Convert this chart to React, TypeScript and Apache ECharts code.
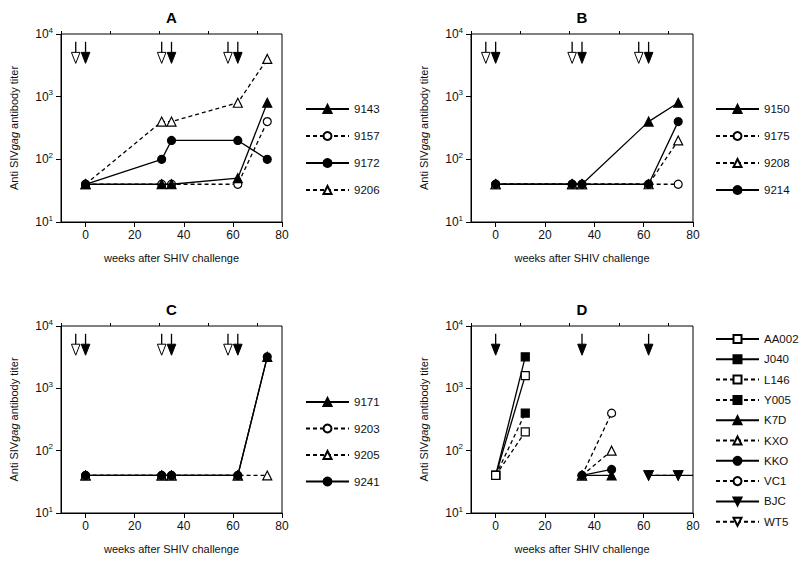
import React, { useEffect, useRef } from "react";
import * as echarts from "echarts";

// ---------- data ----------
const WEEKS_ABC = [0, 31, 35, 62, 74];

const A_NAMES = ["9143", "9157", "9172", "9206"];
const A_9143 = [40, 40, 40, 50, 800];
const A_9157 = [40, 40, 40, 40, 400];
const A_9172 = [40, 100, 200, 200, 100];
const A_9206 = [40, 400, 400, 800, 4000];

const B_NAMES = ["9150", "9175", "9208", "9214"];
const B_9150 = [40, 40, 40, 400, 800];
const B_9175 = [40, 40, 40, 40, 40];
const B_9208 = [40, 40, 40, 40, 200];
const B_9214 = [40, 40, 40, 40, 400];

const C_NAMES = ["9171", "9203", "9205", "9241"];
const C_9171 = [40, 40, 40, 40, 3200];
const C_9203 = [40, 40, 40, 40, null];
const C_9205 = [40, 40, 40, 40, 40];
const C_9241 = [40, 40, 40, 40, 3200];

const D_NAMES = ["AA002", "J040", "L146", "Y005", "K7D", "KXO", "KKO", "VC1", "BJC", "WT5"];
const D_WEEKS_1 = [0, 12];
const D_WEEKS_2 = [35, 47];
const D_WEEKS_3 = [62, 74, 80];
const D_AA002 = [40, 1600];
const D_J040 = [40, 3200];
const D_L146 = [40, 200];
const D_Y005 = [40, 400];
const D_K7D = [40, 40];
const D_KXO = [40, 100];
const D_KKO = [40, 50];
const D_VC1 = [40, 400];
const D_BJC = [40, 40, 40];
const D_BJC_MARKED = [true, true, false];
const D_WT5 = [40, 40];

const ARROWS_ABC_OPEN = [-4, 31, 58];
const ARROWS_ABC_FILLED = [0, 35, 62];
const ARROWS_D_FILLED = [0, 35, 62];
const ARROW_TOP = 7500;
const ARROW_TIP = 3400;

const X_MAJOR_TICKS = [0, 20, 40, 60, 80];
const X_MINOR_TICKS = [-10, 10, 30, 50, 70];
const X_MIN = -10;
const X_MAX = 80;
const Y_MIN = 10;
const Y_MAX = 10000;

const PANEL_TITLES = ["A", "B", "C", "D"];
const X_TITLE = "weeks after SHIV challenge";
const Y_TITLE = "Anti SIV{i|gag} antibody titer";

// ---------- styles ----------
const FONT = "'Liberation Sans', Arial, Helvetica, sans-serif";
const INK = "#111";

const GRIDS = [
  { left: 61, top: 34, width: 221, height: 188 },
  { left: 471, top: 34, width: 222, height: 188 },
  { left: 61, top: 326, width: 221, height: 187 },
  { left: 471, top: 326, width: 222, height: 187 },
];

const LEGENDS = [
  { left: 300, top: 98, itemGap: 15 },
  { left: 710, top: 98, itemGap: 15 },
  { left: 300, top: 391, itemGap: 14.5 },
  { left: 710, top: 328, itemGap: 8.3 },
];

type Sty = { dashed: boolean; symbol: string; filled: boolean; rotate?: number; z?: number; marked?: boolean[] };

function lineSeries(name: string, grid: number, xs: number[], ys: (number | null)[], s: Sty) {
  const data: any[] = [];
  xs.forEach((x, i) => {
    const y = ys[i];
    if (y !== null && y !== undefined) {
      if (s.marked && s.marked[i] === false) data.push({ value: [x, y], symbol: "none" });
      else data.push([x, y]);
    }
  });
  const size = s.symbol === "triangle" ? 9 : 8;
  return {
    type: "line",
    name,
    xAxisIndex: grid * 2,
    yAxisIndex: grid,
    data,
    symbol: s.symbol,
    symbolSize: size,
    symbolRotate: s.rotate || 0,
    showSymbol: true,
    clip: true,
    z: s.z ?? 2,
    lineStyle: { color: "#000", width: 1.3, type: s.dashed ? [4, 3] : "solid" },
    itemStyle: { color: s.filled ? "#000" : "#fff", borderColor: "#000", borderWidth: 1.2, opacity: 1 },
    emphasis: { disabled: true },
  };
}

function arrowSeries(grid: number, open: number[], filled: number[]) {
  const data: number[][] = [];
  open.forEach((x) => data.push([x, ARROW_TIP, 0]));
  filled.forEach((x) => data.push([x, ARROW_TIP, 1]));
  return {
    type: "custom",
    xAxisIndex: grid * 2,
    yAxisIndex: grid,
    encode: { x: 0, y: 1 },
    data,
    z: 5,
    silent: true,
    renderItem: (_p: any, api: any) => {
      const x = api.value(0);
      const isFilled = api.value(2) === 1;
      const top = api.coord([x, ARROW_TOP]);
      const tip = api.coord([x, ARROW_TIP]);
      const h = 11;
      const w = 4.3;
      return {
        type: "group",
        children: [
          {
            type: "line",
            shape: { x1: tip[0], y1: top[1], x2: tip[0], y2: tip[1] - h },
            style: { stroke: "#000", lineWidth: 1.3 },
          },
          {
            type: "polygon",
            shape: {
              points: [
                [tip[0] - w, tip[1] - h],
                [tip[0] + w, tip[1] - h],
                [tip[0], tip[1]],
              ],
            },
            style: { fill: isFilled ? "#000" : "#fff", stroke: "#000", lineWidth: 1 },
          },
        ],
      };
    },
  };
}

function buildOption() {
  const xAxis: any[] = [];
  const yAxis: any[] = [];
  GRIDS.forEach((_g, i) => {
    xAxis.push({
      type: "value",
      gridIndex: i,
      min: X_MIN,
      max: X_MAX,
      name: X_TITLE,
      nameLocation: "middle",
      nameGap: 30,
      nameTextStyle: { fontFamily: FONT, fontSize: 11, color: INK },
      axisLine: { show: true, onZero: false, lineStyle: { color: "#000", width: 1 } },
      axisTick: { show: true, length: 5, customValues: X_MAJOR_TICKS, lineStyle: { color: "#000" } },
      axisLabel: {
        show: true,
        customValues: X_MAJOR_TICKS,
        fontFamily: FONT,
        fontSize: 12,
        color: INK,
        margin: 7,
      },
      splitLine: { show: false },
    });
    xAxis.push({
      type: "value",
      gridIndex: i,
      min: X_MIN,
      max: X_MAX,
      axisLine: { show: false, onZero: false },
      axisTick: { show: true, length: 3, customValues: X_MINOR_TICKS, lineStyle: { color: "#000" } },
      axisLabel: { show: false },
      splitLine: { show: false },
    });
    yAxis.push({
      type: "log",
      logBase: 10,
      gridIndex: i,
      min: Y_MIN,
      max: Y_MAX,
      name: Y_TITLE,
      nameLocation: "middle",
      nameRotate: 90,
      nameGap: 42,
      nameTextStyle: {
        fontFamily: FONT,
        fontSize: 11,
        color: INK,
        rich: { i: { fontFamily: FONT, fontSize: 11, fontStyle: "italic", color: INK } },
      },
      axisLine: { show: true, onZero: false, lineStyle: { color: "#000", width: 1 } },
      axisTick: { show: true, length: 5, lineStyle: { color: "#000" } },
      minorTick: { show: false },
      axisLabel: {
        show: true,
        margin: 8,
        formatter: (v: number) => `{b|10}{s|${Math.round(Math.log10(v))}}`,
        rich: {
          b: { fontFamily: FONT, fontSize: 12, color: INK },
          s: { fontFamily: FONT, fontSize: 8, color: INK, padding: [0, 0, 8, 0] },
        },
      },
      splitLine: { show: false },
    });
  });

  const series: any[] = [
    // A
    lineSeries("9143", 0, WEEKS_ABC, A_9143, { dashed: false, symbol: "triangle", filled: true, z: 3 }),
    lineSeries("9157", 0, WEEKS_ABC, A_9157, { dashed: true, symbol: "circle", filled: false }),
    lineSeries("9172", 0, WEEKS_ABC, A_9172, { dashed: false, symbol: "circle", filled: true, z: 4 }),
    lineSeries("9206", 0, WEEKS_ABC, A_9206, { dashed: true, symbol: "triangle", filled: false }),
    // B
    lineSeries("9150", 1, WEEKS_ABC, B_9150, { dashed: false, symbol: "triangle", filled: true }),
    lineSeries("9175", 1, WEEKS_ABC, B_9175, { dashed: true, symbol: "circle", filled: false }),
    lineSeries("9208", 1, WEEKS_ABC, B_9208, { dashed: true, symbol: "triangle", filled: false }),
    lineSeries("9214", 1, WEEKS_ABC, B_9214, { dashed: false, symbol: "circle", filled: true, z: 4 }),
    // C
    lineSeries("9171", 2, WEEKS_ABC, C_9171, { dashed: false, symbol: "triangle", filled: true }),
    lineSeries("9203", 2, WEEKS_ABC, C_9203, { dashed: true, symbol: "circle", filled: false }),
    lineSeries("9205", 2, WEEKS_ABC, C_9205, { dashed: true, symbol: "triangle", filled: false }),
    lineSeries("9241", 2, WEEKS_ABC, C_9241, { dashed: false, symbol: "circle", filled: true, z: 4 }),
    // D
    lineSeries("AA002", 3, D_WEEKS_1, D_AA002, { dashed: false, symbol: "rect", filled: false, z: 4 }),
    lineSeries("J040", 3, D_WEEKS_1, D_J040, { dashed: false, symbol: "rect", filled: true }),
    lineSeries("L146", 3, D_WEEKS_1, D_L146, { dashed: true, symbol: "rect", filled: false }),
    lineSeries("Y005", 3, D_WEEKS_1, D_Y005, { dashed: true, symbol: "rect", filled: true }),
    lineSeries("K7D", 3, D_WEEKS_2, D_K7D, { dashed: false, symbol: "triangle", filled: true }),
    lineSeries("KXO", 3, D_WEEKS_2, D_KXO, { dashed: true, symbol: "triangle", filled: false }),
    lineSeries("KKO", 3, D_WEEKS_2, D_KKO, { dashed: false, symbol: "circle", filled: true, z: 4 }),
    lineSeries("VC1", 3, D_WEEKS_2, D_VC1, { dashed: true, symbol: "circle", filled: false }),
    lineSeries("BJC", 3, D_WEEKS_3, D_BJC, {
      dashed: false,
      symbol: "triangle",
      filled: true,
      rotate: 180,
      z: 4,
      marked: D_BJC_MARKED,
    }),
    lineSeries("WT5", 3, D_WEEKS_3, D_WT5, { dashed: true, symbol: "triangle", filled: false, rotate: 180 }),
    // arrows
    arrowSeries(0, ARROWS_ABC_OPEN, ARROWS_ABC_FILLED),
    arrowSeries(1, ARROWS_ABC_OPEN, ARROWS_ABC_FILLED),
    arrowSeries(2, ARROWS_ABC_OPEN, ARROWS_ABC_FILLED),
    arrowSeries(3, [], ARROWS_D_FILLED),
  ];

  const legendNames = [A_NAMES, B_NAMES, C_NAMES, D_NAMES];
  const legend = LEGENDS.map((l, i) => ({
    data: legendNames[i],
    orient: "vertical",
    left: l.left,
    top: l.top,
    itemGap: l.itemGap,
    itemWidth: 43,
    itemHeight: 10,
    selectedMode: false,
    textStyle: { fontFamily: FONT, fontSize: 11.5, color: INK, lineHeight: 11 },
  }));

  const graphic = GRIDS.map((g, i) => ({
    type: "text",
    x: g.left + g.width / 2,
    y: g.top - 17,
    silent: true,
    style: {
      text: PANEL_TITLES[i],
      fontFamily: FONT,
      fontSize: 15,
      fontWeight: "bold",
      fill: "#000",
      textAlign: "center",
      textVerticalAlign: "middle",
    },
  }));

  return {
    animation: false,
    backgroundColor: "#fff",
    grid: GRIDS.map((g) => ({ ...g, show: true, borderColor: "#000", borderWidth: 1, backgroundColor: "transparent" })),
    xAxis,
    yAxis,
    legend,
    graphic,
    series,
  };
}

export default function App() {
  const ref = useRef<HTMLDivElement>(null);
  useEffect(() => {
    document.body.style.margin = "0";
    if (!ref.current) return;
    const chart = echarts.init(ref.current, null, { renderer: "svg" });
    chart.setOption(buildOption() as any);
    return () => chart.dispose();
  }, []);
  return <div ref={ref} style={{ width: 800, height: 562 }} />;
}
